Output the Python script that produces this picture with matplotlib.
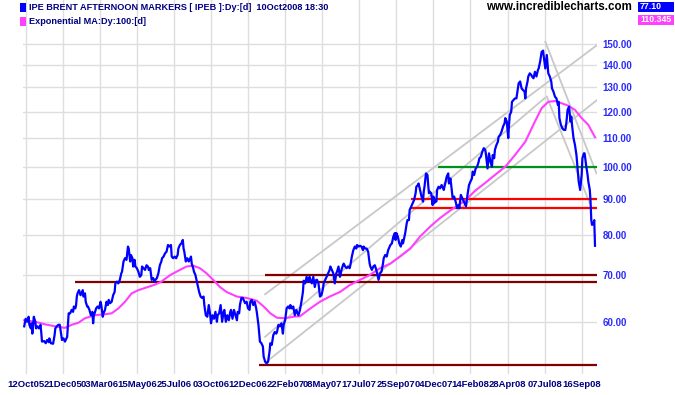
import matplotlib
matplotlib.use("Agg")
import matplotlib.pyplot as plt
from matplotlib.patches import Rectangle
from matplotlib.ticker import NullLocator, FixedLocator

plt.rcParams['font.family'] = ['Liberation Sans', 'DejaVu Sans']

# ---------------- data ----------------
# trading-day index (0 = 12Oct05) and IPE Brent close
price_days = [-2, 0, 2, 4, 5, 7, 8, 9, 11, 13, 14, 16, 18, 20, 21, 22, 25, 27, 29, 31, 32, 34, 37, 39, 40, 42, 44, 46, 48, 49, 51, 53, 56, 57, 58, 60, 62, 64, 65, 67, 68, 69, 70, 72, 74, 76, 77, 78, 80, 81, 83, 84, 86, 88, 90, 91, 92, 93, 95, 97, 99, 101, 102, 104, 105, 107, 109, 111, 112, 114, 116, 118, 120, 121, 123, 125, 127, 129, 130, 132, 134, 136, 138, 139, 141, 142, 144, 145, 147, 148, 150, 152, 154, 156, 157, 159, 161, 163, 165, 166, 168, 170, 172, 174, 175, 177, 179, 181, 183, 184, 186,
              188, 190, 192, 194, 196, 197, 199, 201, 203, 205, 206, 208, 210, 212, 213, 214, 216, 218, 220, 222, 223, 224, 226, 227, 229, 231, 232, 234, 236, 238, 240, 241, 243, 245, 247, 249, 250, 252, 254, 256, 258, 259, 261, 263, 265, 267, 268, 270, 272, 274, 276, 277, 279, 281, 283, 285, 286, 288, 289, 291, 293, 294, 296, 298, 300, 302, 303, 305, 307, 309, 311, 312, 314, 316, 318, 320, 321, 323, 325, 327, 329, 330, 332, 334, 336, 338, 339, 341, 343, 345, 347, 348, 350, 352, 354, 356, 357, 359, 361, 363, 365, 366, 368, 370, 372, 374, 375,
              377, 379, 381, 383, 384, 386, 388, 390, 392, 393, 395, 397, 399, 401, 402, 404, 406, 408, 410, 411, 413, 415, 417, 419, 420, 422, 424, 426, 428, 429, 431, 433, 435, 437, 438, 440, 442, 444, 446, 447, 449, 451, 453, 455, 456, 458, 460, 462, 464, 465, 467, 469, 471, 473, 474, 476, 478, 480, 482, 483, 485, 487, 489, 491, 492, 494, 496, 498, 499, 500, 502, 504, 506, 508, 509, 511, 512, 514, 515, 517, 518, 520, 522, 524, 526, 527, 529, 530, 532, 534, 536, 537, 538, 540, 542, 543, 544, 545, 547, 548, 549, 550, 551, 553, 554, 555, 557, 559, 561, 562, 564, 566, 568, 570, 571,
              573, 575, 576, 578, 580, 582, 584, 585, 587, 589, 591, 593, 594, 596, 598, 600, 602, 603, 605, 607, 609, 611, 612, 614, 616, 618, 620, 621, 623, 625, 627, 629, 630, 632, 633, 635, 637, 638, 640, 642, 644, 646, 647, 649, 650, 651, 652, 653, 655, 656, 658, 660, 662, 664, 665, 667, 669, 671, 673, 674, 675, 677, 678, 680, 682, 683, 685, 687, 689, 691, 692, 694, 696, 698, 699, 701, 702, 703, 705, 707, 709, 710, 712, 714, 716, 718, 719, 720, 722, 724, 726, 728, 729, 730, 731, 733, 735, 736, 737, 739, 741, 743, 745, 746, 748, 750, 751, 753, 754, 756, 758, 759, 761, 762, 763, 764, 766, 767, 768]
price_vals = [59.1, 60.6, 60.0, 61.0, 59.4, 58.7, 59.7, 57.7, 61.0, 60.0, 58.7, 59.1, 58.7, 59.4, 58.0, 56.2, 56.3, 55.9, 56.5, 56.1, 56.8, 55.9, 55.8, 57.4, 58.7, 59.1, 59.4, 59.4, 57.4, 56.5, 56.8, 56.2, 57.1, 59.4, 61.7, 61.7, 62.4, 62.0, 63.1, 62.7, 63.4, 65.2, 65.9, 66.6, 65.5, 66.2, 66.6, 65.2, 65.9, 64.1, 63.1, 63.1, 62.4, 61.3, 62.0, 59.7, 61.3, 61.7, 62.7, 63.1, 62.7, 64.1, 63.4, 61.0, 61.7, 62.4, 64.1, 63.4, 64.5, 63.8, 64.1, 65.5, 66.2, 68.1, 68.5, 68.1, 68.9, 70.4, 70.8, 73.2, 74.0, 73.6, 76.9, 76.4, 73.2, 74.8, 74.0, 72.0, 73.6, 72.0, 71.6, 70.8, 69.6, 70.0, 72.0, 71.6, 71.2, 72.3, 72.0, 71.2, 71.6, 68.9, 69.3, 68.5, 68.9, 69.3, 70.4, 72.3, 73.2, 74.0, 74.4,
              75.2, 75.6, 77.3, 76.9, 77.3, 74.4, 74.0, 74.4, 74.0, 74.8, 76.4, 77.3, 77.7, 78.6, 76.4, 75.6, 73.2, 74.0, 73.2, 74.0, 74.4, 72.7, 71.6, 70.8, 70.0, 68.5, 67.7, 66.2, 65.2, 64.9, 65.2, 63.4, 61.3, 61.0, 63.4, 61.3, 59.7, 61.3, 60.6, 62.0, 60.0, 61.3, 61.7, 63.4, 60.0, 62.0, 62.4, 60.0, 61.3, 60.3, 62.0, 62.4, 60.6, 62.4, 61.3, 60.3, 62.0, 61.7, 63.4, 64.9, 64.9, 64.5, 63.8, 64.1, 62.7, 62.4, 64.1, 64.5, 63.4, 64.1, 62.7, 61.7, 59.4, 56.2, 55.9, 55.3, 53.5, 52.6, 52.3, 52.6, 54.4, 55.9, 55.6, 57.4, 58.0, 57.7, 58.0, 59.4, 59.1, 59.7, 57.7, 59.4, 60.3, 62.7, 63.1, 62.7, 63.4, 62.7, 63.1, 61.3, 62.4, 62.0, 61.3, 62.4, 64.1, 66.2, 68.7,
              68.1, 69.6, 68.5, 69.6, 68.9, 68.1, 69.6, 67.3, 68.9, 68.9, 68.1, 65.2, 65.5, 66.9, 68.1, 68.9, 69.6, 70.4, 71.2, 72.0, 71.2, 70.4, 68.1, 70.4, 70.8, 72.0, 69.6, 71.2, 72.3, 72.7, 72.0, 71.6, 72.0, 71.6, 72.3, 74.4, 76.0, 76.9, 76.4, 77.3, 76.9, 77.1, 76.9, 76.0, 76.9, 76.4, 76.4, 75.6, 72.7, 72.0, 71.2, 72.0, 72.3, 71.2, 70.4, 68.9, 70.4, 70.8, 72.7, 74.0, 74.8, 74.4, 76.0, 76.9, 77.3, 77.7, 79.5, 80.4, 78.6, 80.4, 79.5, 77.7, 76.9, 78.6, 77.7, 79.5, 80.4, 83.0, 83.9, 83.9, 86.8, 87.7, 88.7, 89.7, 91.7, 93.7, 94.2, 94.7, 92.7, 90.7, 89.2, 92.2, 93.7, 97.9, 97.4, 94.2, 91.7, 92.2, 91.7, 90.2, 88.2, 90.7, 88.7, 89.7, 89.2, 92.7, 93.7, 93.2, 94.2, 93.7, 92.7, 94.7, 96.9, 97.9, 94.7,
              96.3, 92.2, 90.2, 90.7, 89.2, 87.3, 88.2, 87.3, 91.2, 90.2, 89.2, 88.2, 87.8, 91.2, 94.2, 95.3, 96.3, 98.5, 97.4, 99.5, 100.1, 101.7, 102.9, 103.4, 105.2, 106.4, 105.8, 104.0, 99.5, 104.6, 101.7, 100.1, 104.0, 102.9, 105.8, 107.5, 108.7, 110.5, 111.1, 112.4, 114.3, 115.5, 117.5, 116.2, 113.0, 110.0, 114.9, 118.7, 120.0, 124.0, 124.7, 125.4, 125.4, 129.6, 131.8, 132.6, 129.6, 128.9, 128.2, 125.4, 129.6, 132.6, 134.8, 136.2, 135.5, 134.8, 134.0, 136.9, 134.8, 137.7, 138.4, 141.6, 146.2, 146.8, 143.6, 138.4, 141.6, 144.7, 136.2, 134.8, 132.6, 129.6, 128.2, 126.1, 125.4, 122.7, 124.0, 117.5, 114.9, 113.6, 113.0, 113.0, 114.9, 117.5, 120.7, 122.0, 116.2, 118.1, 114.9, 110.0, 107.5, 104.0, 98.3, 95.3, 92.7, 97.4, 102.9, 104.6, 104.6, 100.6, 97.4, 95.3, 92.7, 89.2, 83.9, 82.6, 83.0, 83.9, 77.1]

# 100-day exponential moving average
ema_days = [-2, 13, 26, 40, 53, 62, 71, 80, 93, 107, 116, 125, 134, 143, 152, 165, 174, 183, 195, 208, 217, 226, 235, 244, 253, 262, 271, 285, 298, 312, 321, 330, 339, 350, 361, 370, 384, 397, 410, 424, 437, 451, 464, 478, 492, 505, 519, 532, 546, 559, 572, 579, 593, 606, 620, 633, 647, 660, 674, 687, 696, 705, 714, 723, 732, 741, 750, 759, 768]
ema_vals = [60.3, 60.0, 59.5, 59.1, 58.8, 59.4, 59.8, 60.7, 61.3, 61.5, 61.7, 62.7, 64.1, 65.9, 66.6, 67.3, 67.8, 68.5, 70.0, 71.2, 72.0, 72.2, 71.6, 70.4, 68.9, 67.3, 66.2, 65.2, 64.9, 64.3, 63.1, 61.7, 60.8, 60.7, 61.0, 61.1, 62.7, 64.1, 65.2, 66.2, 67.7, 68.9, 70.0, 71.6, 72.7, 74.4, 76.4, 79.5, 82.2, 84.5, 86.5, 87.5, 89.5, 92.4, 94.9, 97.4, 100.1, 104.0, 108.7, 116.2, 121.4, 124.0, 124.3, 123.4, 122.4, 120.7, 117.5, 114.9, 110.3]

# horizontal support / resistance lines: level, start day, colour
hline_levels = [70.0, 68.5, 52.0, 90.0, 87.4, 100.0]
hline_starts = [323, 67, 315, 520, 518, 556]
hline_colors = ['#800000', '#800000', '#800000', '#ff0000', '#ff0000', '#00901e']

# grey trend lines: (day0, price0, day1, price1)
trend_d0 = [323, 323, 325, 701, 703]
trend_p0 = [65.7, 57.1, 52.6, 151.2, 126.1]
trend_d1 = [770.7, 700, 770.7, 770, 761]
trend_p1 = [149.5, 125.5, 124.7, 97.9, 88.7]

tick_days = [0, 50, 100, 150, 200, 250, 300, 350, 400, 450, 500, 550, 600, 650, 700, 750]
tick_labels = ['12Oct05', '21Dec05', '03Mar06', '15May06', '25Jul06', '03Oct06', '12Dec06',
               '22Feb07', '08May07', '17Jul07', '25Sep07', '04Dec07', '14Feb08', '28Apr08',
               '07Jul08', '16Sep08']
y_ticks = [60, 70, 80, 90, 100, 110, 120, 130, 140, 150]

last_price = '77.10'
last_ema = '110.345'

# ---------------- figure ----------------
W, H = 675, 395
fig = plt.figure(figsize=(W / 100, H / 100), dpi=100)
fig.patch.set_facecolor('white')

ax_l, ax_r, ax_t, ax_b = 23, 597, 0, 374
ax = fig.add_axes([ax_l / W, 1 - ax_b / H, (ax_r - ax_l) / W, (ax_b - ax_t) / H])
ax.set_yscale('log')
ax.set_xlim(-3.6, 770.7)
ax.set_ylim(50.5, 173.5)
for s in ax.spines.values():
    s.set_visible(False)

grid_c = '#dedede'
for d in tick_days:
    ax.axvline(d, color=grid_c, lw=1.0, zorder=0)
for v in y_ticks:
    ax.axhline(v, color=grid_c, lw=1.0, zorder=0)

for lvl, st, c in zip(hline_levels, hline_starts, hline_colors):
    ax.hlines(lvl, st, 770.7, colors=c, lw=1.6, zorder=2)

for d0, p0, d1, p1 in zip(trend_d0, trend_p0, trend_d1, trend_p1):
    ax.plot([d0, d1], [p0, p1], color='#c8c8c8', lw=1.3, zorder=1)

ax.plot(ema_days, ema_vals, color='#ff40ff', lw=1.5, zorder=3)
ax.plot(price_days, price_vals, color='#0000ff', lw=1.6, zorder=4)

ax.yaxis.tick_right()
ax.yaxis.set_major_locator(FixedLocator(y_ticks))
ax.yaxis.set_minor_locator(NullLocator())
ax.set_yticklabels(['%.2f' % v for v in y_ticks])
ax.tick_params(axis='y', length=0, pad=4, labelsize=7, labelcolor='#2a2aff')
for t in ax.get_yticklabels():
    t.set_fontweight('bold')

ax.set_xticks(tick_days)
ax.set_xticklabels(tick_labels)
ax.tick_params(axis='x', length=0, pad=4, labelsize=6.8, labelcolor='#000080')
for t in ax.get_xticklabels():
    t.set_fontweight('bold')


def fx(x):
    return x / W


def fy(y):
    return 1 - y / H


# legend squares and titles
fig.patches.append(Rectangle((fx(20), fy(12)), 6 / W, 9 / H, transform=fig.transFigure,
                             facecolor='#0000ff', edgecolor='none'))
fig.patches.append(Rectangle((fx(20), fy(26)), 6 / W, 9 / H, transform=fig.transFigure,
                             facecolor='#ff40ff', edgecolor='none'))
fig.text(fx(29), fy(7.5), 'IPE BRENT AFTERNOON MARKERS [ IPEB ]:Dy:[d]  10Oct2008 18:30',
         fontsize=6.6, fontweight='bold', color='#000080', va='center', ha='left')
fig.text(fx(29), fy(21.5), 'Exponential MA:Dy:100:[d]',
         fontsize=6.6, fontweight='bold', color='#000080', va='center', ha='left')
fig.text(fx(632), fy(7.5), 'www.incrediblecharts.com', fontsize=8.3, fontweight='bold',
         color='black', va='center', ha='right')

fig.patches.append(Rectangle((fx(637.5), fy(11.7)), 36 / W, 10 / H, transform=fig.transFigure,
                             facecolor='#0000ff', edgecolor='none'))
fig.text(fx(640), fy(6.7), last_price, fontsize=6.3, fontweight='bold', color='white',
         va='center', ha='left')
fig.patches.append(Rectangle((fx(637.5), fy(25)), 36 / W, 10 / H, transform=fig.transFigure,
                             facecolor='#ff40ff', edgecolor='none'))
fig.text(fx(640), fy(20), last_ema, fontsize=6.3, fontweight='bold', color='white',
         va='center', ha='left')

fig.savefig('out.png', dpi=100, facecolor='white')
